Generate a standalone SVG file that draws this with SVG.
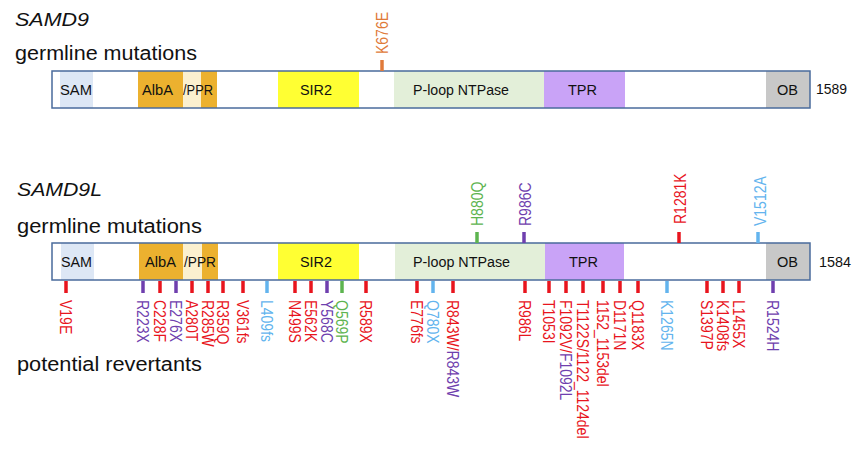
<svg xmlns="http://www.w3.org/2000/svg" width="855" height="450" viewBox="0 0 855 450">
<style>
text{font-family:"Liberation Sans",Arial,sans-serif;fill:#111}
.title{font-size:18.5px;font-style:italic}
.head{font-size:19.5px}
.dom{font-size:14px}
.mut{font-size:14px}
.outline{fill:none;stroke:#4a6b9c;stroke-width:1.5}
.sam{fill:#dde7f5}.alba{fill:#ecb12f}.ppr{fill:#fbf0cf}.sir{fill:#ffff33}.ploop{fill:#e3efd9}.tpr{fill:#c9a3f7}.ob{fill:#c8c8c8}
.r{fill:#e8151e}.p{fill:#6f3fae}.b{fill:#63b4ee}.g{fill:#5db44f}.o{fill:#e07a3a}
.tr{stroke:#e8151e}.tp{stroke:#6f3fae}.tb{stroke:#63b4ee}.tg{stroke:#5db44f}.to{stroke:#e07a3a}
line{stroke-width:3.5}
</style>

<g id="samd9-labels">
<text class="title" x="15" y="26" textLength="74" lengthAdjust="spacingAndGlyphs">SAMD9</text>
<text class="head" x="15" y="60" textLength="182" lengthAdjust="spacingAndGlyphs">germline mutations</text>
</g>

<g id="samd9-protein">
<rect x="52" y="71" width="758" height="37" fill="#fff"/>
<rect class="sam" x="60" y="71" width="33" height="37"/>
<rect class="alba" x="138" y="71" width="45" height="37"/>
<rect class="ppr" x="183" y="71" width="18" height="37"/>
<rect class="alba" x="201" y="71" width="16" height="37"/>
<rect class="sir" x="278" y="71" width="81" height="37"/>
<rect class="ploop" x="394" y="71" width="150" height="37"/>
<rect class="tpr" x="544" y="71" width="81" height="37"/>
<rect class="ob" x="766" y="71" width="44" height="37"/>
<rect class="outline" x="52" y="71" width="758" height="37"/>
<text class="dom" x="60" y="95" textLength="32" lengthAdjust="spacingAndGlyphs">SAM</text>
<text class="dom" x="142" y="95" textLength="31" lengthAdjust="spacingAndGlyphs">AlbA</text>
<text class="dom" x="183" y="95" textLength="30" lengthAdjust="spacingAndGlyphs">/PPR</text>
<text class="dom" x="300" y="95" textLength="32" lengthAdjust="spacingAndGlyphs">SIR2</text>
<text class="dom" x="413" y="95" textLength="96" lengthAdjust="spacingAndGlyphs">P-loop NTPase</text>
<text class="dom" x="568" y="95" textLength="29" lengthAdjust="spacingAndGlyphs">TPR</text>
<text class="dom" x="777" y="95" textLength="21" lengthAdjust="spacingAndGlyphs">OB</text>
<text class="dom" x="816" y="94" textLength="31" lengthAdjust="spacingAndGlyphs">1589</text>
</g>

<g id="samd9-mutations">
<line class="to" x1="382" y1="60" x2="382" y2="71"/>
<text class="mut o" transform="translate(382,54) rotate(-90) scale(1,1.15)" y="5">K676E</text>
</g>

<g id="samd9l-labels">
<text class="title" x="17" y="196" textLength="85" lengthAdjust="spacingAndGlyphs">SAMD9L</text>
<text class="head" x="17" y="233" textLength="185" lengthAdjust="spacingAndGlyphs">germline mutations</text>
<text class="head" x="17" y="371" textLength="185" lengthAdjust="spacingAndGlyphs">potential revertants</text>
</g>

<g id="samd9l-protein">
<rect x="52" y="243" width="758" height="37" fill="#fff"/>
<rect class="sam" x="61" y="243" width="33" height="37"/>
<rect class="alba" x="139" y="243" width="44" height="37"/>
<rect class="ppr" x="183" y="243" width="19" height="37"/>
<rect class="alba" x="202" y="243" width="16" height="37"/>
<rect class="sir" x="278" y="243" width="81" height="37"/>
<rect class="ploop" x="395" y="243" width="150" height="37"/>
<rect class="tpr" x="545" y="243" width="79" height="37"/>
<rect class="ob" x="766" y="243" width="44" height="37"/>
<rect class="outline" x="52" y="243" width="758" height="37"/>
<text class="dom" x="61" y="267" textLength="31" lengthAdjust="spacingAndGlyphs">SAM</text>
<text class="dom" x="145" y="267" textLength="31" lengthAdjust="spacingAndGlyphs">AlbA</text>
<text class="dom" x="184" y="267" textLength="32" lengthAdjust="spacingAndGlyphs">/PPR</text>
<text class="dom" x="300" y="267" textLength="32" lengthAdjust="spacingAndGlyphs">SIR2</text>
<text class="dom" x="413" y="267" textLength="97" lengthAdjust="spacingAndGlyphs">P-loop NTPase</text>
<text class="dom" x="569" y="267" textLength="29" lengthAdjust="spacingAndGlyphs">TPR</text>
<text class="dom" x="777" y="267" textLength="21" lengthAdjust="spacingAndGlyphs">OB</text>
<text class="dom" x="819" y="267" textLength="32" lengthAdjust="spacingAndGlyphs">1584</text>
</g>

<g id="samd9l-germline">
<line class="tg" x1="477" y1="232" x2="477" y2="243"/>
<text class="mut g" transform="translate(477,226) rotate(-90) scale(1,1.15)" y="5">H880Q</text>
<line class="tp" x1="524" y1="232" x2="524" y2="243"/>
<text class="mut p" transform="translate(525,226) rotate(-90) scale(1,1.15)" y="5">R986C</text>
<line class="tr" x1="679" y1="232" x2="679" y2="243"/>
<text class="mut r" transform="translate(680,224) rotate(-90) scale(1,1.15)" y="5">R1281K</text>
<line class="tb" x1="758" y1="232" x2="758" y2="243"/>
<text class="mut b" transform="translate(760,226) rotate(-90) scale(1,1.15)" y="5">V1512A</text>
</g>

<g id="samd9l-revertants">
<line class="tr" x1="66" y1="281" x2="66" y2="293"/><text class="mut r" transform="translate(66,300) rotate(90) scale(1,1.15)" y="5">V19E</text>
<line class="tp" x1="143" y1="281" x2="143" y2="293"/><text class="mut p" transform="translate(143,300) rotate(90) scale(1,1.15)" y="5">R223X</text>
<line class="tr" x1="160" y1="281" x2="160" y2="293"/><text class="mut r" transform="translate(160,300) rotate(90) scale(1,1.15)" y="5">C228F</text>
<line class="tp" x1="176" y1="281" x2="176" y2="293"/><text class="mut p" transform="translate(176,300) rotate(90) scale(1,1.15)" y="5">E276X</text>
<line class="tr" x1="192" y1="281" x2="192" y2="293"/><text class="mut r" transform="translate(192,300) rotate(90) scale(1,1.15)" y="5">A280T</text>
<line class="tr" x1="208" y1="281" x2="208" y2="293"/><text class="mut r" transform="translate(208,300) rotate(90) scale(1,1.15)" y="5">R285W</text>
<line class="tr" x1="223" y1="281" x2="223" y2="293"/><text class="mut r" transform="translate(223,300) rotate(90) scale(1,1.15)" y="5">R359Q</text>
<line class="tr" x1="243" y1="281" x2="243" y2="293"/><text class="mut r" transform="translate(243,300) rotate(90) scale(1,1.15)" y="5">V361fs</text>
<line class="tb" x1="267" y1="281" x2="267" y2="293"/><text class="mut b" transform="translate(267,300) rotate(90) scale(1,1.15)" y="5">L409fs</text>
<line class="tr" x1="295" y1="281" x2="295" y2="293"/><text class="mut r" transform="translate(295,300) rotate(90) scale(1,1.15)" y="5">N499S</text>
<line class="tr" x1="311" y1="281" x2="311" y2="293"/><text class="mut r" transform="translate(311,300) rotate(90) scale(1,1.15)" y="5">E562K</text>
<line class="tp" x1="327" y1="281" x2="327" y2="293"/><text class="mut p" transform="translate(327,300) rotate(90) scale(1,1.15)" y="5">Y568C</text>
<line class="tg" x1="342" y1="281" x2="342" y2="293"/><text class="mut g" transform="translate(342,300) rotate(90) scale(1,1.15)" y="5">Q569P</text>
<line class="tr" x1="366" y1="281" x2="366" y2="293"/><text class="mut r" transform="translate(366,300) rotate(90) scale(1,1.15)" y="5">R589X</text>
<line class="tr" x1="417" y1="281" x2="417" y2="293"/><text class="mut r" transform="translate(417,300) rotate(90) scale(1,1.15)" y="5">E776fs</text>
<line class="tb" x1="433" y1="281" x2="433" y2="293"/><text class="mut b" transform="translate(433,300) rotate(90) scale(1,1.15)" y="5">Q780X</text>
<line class="tr" x1="453" y1="281" x2="453" y2="293"/><text class="mut" transform="translate(453,300) rotate(90) scale(1,1.15)" y="5"><tspan class="r">R843W/</tspan><tspan class="p">R843W</tspan></text>
<line class="tr" x1="525" y1="281" x2="525" y2="293"/><text class="mut r" transform="translate(525,300) rotate(90) scale(1,1.15)" y="5">R986L</text>
<line class="tr" x1="549" y1="281" x2="549" y2="293"/><text class="mut r" transform="translate(549,300) rotate(90) scale(1,1.15)" y="5">T1053I</text>
<line class="tr" x1="566" y1="281" x2="566" y2="293"/><text class="mut" transform="translate(566,300) rotate(90) scale(1,1.15)" y="5"><tspan class="r">F1092V/</tspan><tspan class="p">F1092L</tspan></text>
<line class="tr" x1="583" y1="281" x2="583" y2="293"/><text class="mut r" transform="translate(583,300) rotate(90) scale(1,1.15)" y="5">T1122S/1122_1124del</text>
<line class="tr" x1="603" y1="281" x2="603" y2="293"/><text class="mut r" transform="translate(603,300) rotate(90) scale(1,1.15)" y="5">1152_1153del</text>
<line class="tr" x1="620" y1="281" x2="620" y2="293"/><text class="mut r" transform="translate(620,300) rotate(90) scale(1,1.15)" y="5">D1171N</text>
<line class="tr" x1="638" y1="281" x2="638" y2="293"/><text class="mut r" transform="translate(638,300) rotate(90) scale(1,1.15)" y="5">Q1183X</text>
<line class="tb" x1="667" y1="281" x2="667" y2="293"/><text class="mut b" transform="translate(667,300) rotate(90) scale(1,1.15)" y="5">K1265N</text>
<line class="tr" x1="707" y1="281" x2="707" y2="293"/><text class="mut r" transform="translate(707,300) rotate(90) scale(1,1.15)" y="5">S1397P</text>
<line class="tr" x1="723" y1="281" x2="723" y2="293"/><text class="mut r" transform="translate(723,300) rotate(90) scale(1,1.15)" y="5">K1408fs</text>
<line class="tr" x1="739" y1="281" x2="739" y2="293"/><text class="mut r" transform="translate(739,300) rotate(90) scale(1,1.15)" y="5">L1455X</text>
<line class="tp" x1="773" y1="281" x2="773" y2="293"/><text class="mut p" transform="translate(773,300) rotate(90) scale(1,1.15)" y="5">R1524H</text>
</g>
</svg>
